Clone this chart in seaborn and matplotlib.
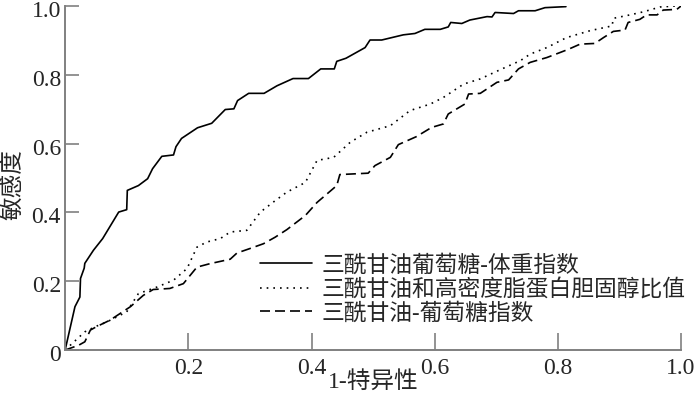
import pandas as pd
import matplotlib
matplotlib.use("Agg")
import matplotlib.pyplot as plt
import matplotlib.transforms as mtransforms
import seaborn as sns

# ROC curves (1-specificity, sensitivity)
tyg_bmi_x = [0, 0.016, 0.024, 0.025, 0.031, 0.032, 0.046, 0.061, 0.087, 0.100, 0.101, 0.119,
             0.134, 0.142, 0.157, 0.176, 0.180, 0.189, 0.215, 0.238, 0.260, 0.274, 0.280, 0.298,
             0.323, 0.344, 0.370, 0.395, 0.415, 0.437, 0.441, 0.456, 0.487, 0.495, 0.514, 0.549,
             0.568, 0.584, 0.609, 0.622, 0.626, 0.644, 0.657, 0.685, 0.693, 0.698, 0.728, 0.736,
             0.763, 0.779, 0.813]
tyg_bmi_y = [0, 0.126, 0.154, 0.208, 0.238, 0.252, 0.290, 0.324, 0.401, 0.408, 0.464, 0.478,
             0.498, 0.527, 0.563, 0.567, 0.591, 0.615, 0.646, 0.659, 0.699, 0.701, 0.725, 0.746,
             0.746, 0.768, 0.789, 0.789, 0.817, 0.817, 0.839, 0.848, 0.879, 0.901, 0.901, 0.916,
             0.920, 0.932, 0.932, 0.939, 0.952, 0.949, 0.959, 0.969, 0.968, 0.981, 0.978, 0.986,
             0.986, 0.995, 0.998]

tg_hdl_x = [0, 0.032, 0.049, 0.068, 0.100, 0.119, 0.149, 0.176, 0.198, 0.214, 0.230, 0.252,
            0.268, 0.295, 0.317, 0.338, 0.360, 0.390, 0.409, 0.436, 0.463, 0.490, 0.528, 0.560,
            0.593, 0.614, 0.647, 0.674, 0.703, 0.739, 0.755, 0.782, 0.814, 0.852, 0.888, 0.890,
            0.917, 0.939, 0.966, 0.992, 1.0]
tg_hdl_y = [0, 0.053, 0.068, 0.082, 0.111, 0.164, 0.183, 0.203, 0.237, 0.299, 0.314, 0.324,
            0.343, 0.348, 0.401, 0.430, 0.459, 0.487, 0.551, 0.560, 0.604, 0.633, 0.652, 0.696,
            0.715, 0.734, 0.773, 0.788, 0.812, 0.841, 0.860, 0.879, 0.908, 0.928, 0.942, 0.964,
            0.974, 0.983, 0.997, 1.0, 1.0]

tyg_x = [0, 0.022, 0.032, 0.041, 0.051, 0.073, 0.106, 0.127, 0.143, 0.170, 0.192, 0.203,
         0.214, 0.235, 0.268, 0.279, 0.300, 0.322, 0.341, 0.360, 0.390, 0.409, 0.441, 0.446,
         0.492, 0.503, 0.528, 0.541, 0.570, 0.595, 0.614, 0.622, 0.649, 0.655, 0.674, 0.701,
         0.720, 0.736, 0.755, 0.782, 0.804, 0.817, 0.836, 0.860, 0.874, 0.890, 0.909, 0.914,
         0.933, 0.944, 0.961, 0.971, 0.993, 1.0]
tyg_y = [0, 0.014, 0.024, 0.058, 0.068, 0.087, 0.126, 0.159, 0.176, 0.179, 0.193, 0.217,
         0.241, 0.251, 0.264, 0.282, 0.295, 0.309, 0.328, 0.350, 0.391, 0.429, 0.478, 0.510,
         0.514, 0.536, 0.560, 0.597, 0.620, 0.647, 0.657, 0.686, 0.715, 0.744, 0.746, 0.778,
         0.785, 0.817, 0.836, 0.850, 0.865, 0.874, 0.889, 0.891, 0.908, 0.926, 0.930, 0.952,
         0.961, 0.974, 0.974, 0.988, 0.990, 1.0]

labels = ["三酰甘油葡萄糖-体重指数", "三酰甘油和高密度脂蛋白胆固醇比值", "三酰甘油-葡萄糖指数"]
x_ticks = [0.2, 0.4, 0.6, 0.8, 1.0]
x_tick_labels = ["0.2", "0.4", "0.6", "0.8", "1.0"]
y_ticks = [0, 0.2, 0.4, 0.6, 0.8, 1.0]
y_tick_labels = ["0", "0.2", "0.4", "0.6", "0.8", "1.0"]

sns.set_style("white")
plt.rcParams['font.family'] = ['Liberation Serif', 'Noto Sans CJK SC']

fig = plt.figure(figsize=(7, 3.96), dpi=100)
ax = fig.add_axes([0.093, 0.116, 0.880, 0.869])

curves = [(tyg_bmi_x, tyg_bmi_y, '-'), (tg_hdl_x, tg_hdl_y, (0, (1, 3))), (tyg_x, tyg_y, (0, (6, 3)))]
for (xs, ys, ls), lab in zip(curves, labels):
    df = pd.DataFrame({'x': xs, 'y': ys})
    sns.lineplot(data=df, x='x', y='y', sort=False, estimator=None, color='black',
                 linewidth=1.2, linestyle=ls, label=lab, ax=ax)

ax.set_xlim(0, 1)
ax.set_ylim(0, 1)
ax.set_xticks(x_ticks)
ax.set_xticklabels(x_tick_labels)
ax.set_yticks(y_ticks)
ax.set_yticklabels(y_tick_labels)
# seaborn's white style hides ticks, so switch them back on
ax.tick_params(axis='x', bottom=True, direction='in', length=12, width=1.2, color='#808080',
               labelsize=17, pad=6)
ax.tick_params(axis='y', left=True, direction='in', length=10, width=1.2, color='#808080',
               labelsize=17, pad=3)
# nudge y tick labels down a little, as in the original
shift = mtransforms.ScaledTranslation(0, -3 / 100, fig.dpi_scale_trans)
for lbl in ax.get_yticklabels():
    lbl.set_transform(lbl.get_transform() + shift)
for side in ['top', 'right']:
    ax.spines[side].set_visible(False)
for side in ['left', 'bottom']:
    ax.spines[side].set_color('#808080')
    ax.spines[side].set_linewidth(1.4)

ax.set_xlabel("1-特异性", fontsize=17, labelpad=-6)
ax.set_ylabel("敏感度", fontsize=17)
ax.yaxis.label.set_va('center')
ax.yaxis.set_label_coords(-0.085, 0.48)

ax.legend(loc='upper left', bbox_to_anchor=(0.316, 0.277), frameon=False, fontsize=16.4,
          handlelength=2.3, handletextpad=0.4, labelspacing=0.1, borderpad=0, borderaxespad=0)

fig.savefig("out.png", dpi=100)
